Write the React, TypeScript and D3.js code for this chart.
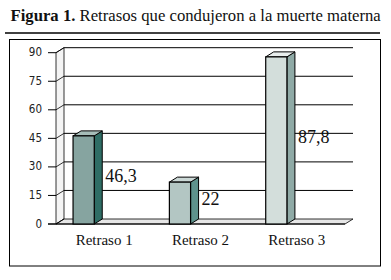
import React from "react";
import * as d3 from "d3";

const categories = ["Retraso 1", "Retraso 2", "Retraso 3"];
const values = [46.3, 22, 87.8];
const valueLabels = ["46,3", "22", "87,8"];
const yTicks = [0, 15, 30, 45, 60, 75, 90];
const frontColors = ["#86a4a0", "#b3c6c3", "#d3dedb"];
const sideColors = ["#2f6d65", "#5e928c", "#8faaa6"];
const topColors = ["#a6bcb8", "#cbd8d6", "#e9eeed"];

export default function App() {
  const W = 391, H = 280;
  const x0 = 56, x1 = 345;
  const dx = 8, dy = -5;
  const xScale = d3.scaleBand<string>().domain(categories).range([x0, x1]);
  const y = d3.scaleLinear().domain([0, 90]).range([224, 52.7]);
  const bw = xScale.bandwidth();
  const barW = bw * 0.22;
  const barOff = bw * 0.177;
  const serif = "Liberation Serif";
  return (
    <svg width={W} height={H} style={{ position: "absolute", left: 0, top: 0 }}>
      <rect x={0} y={0} width={W} height={H} fill="#fff" />
      <text x={10.5} y={21} fontFamily={serif} fontSize={16.7} fill="#111">
        <tspan fontWeight="bold">Figura 1.</tspan>
        <tspan> Retrasos que condujeron a la muerte materna</tspan>
      </text>
      <line x1={5} x2={380} y1={33} y2={33} stroke="#000" strokeWidth={1.5} />
      <rect x={9.5} y={39.5} width={371} height={226.5} fill="none" stroke="#000" strokeWidth={1} />
      <polygon
        points={`${x0},${y(90)} ${x0 + dx},${y(90) + dy} ${x0 + dx},${y(0) + dy} ${x0},${y(0)}`}
        fill="#f4f4f4"
        stroke="#000"
        strokeWidth={0.8}
      />
      <polygon
        points={`${x0},${y(0)} ${x0 + dx},${y(0) + dy} ${x1 + dx},${y(0) + dy} ${x1},${y(0)}`}
        fill="#e6e6e6"
        stroke="#000"
        strokeWidth={0.8}
      />
      <line x1={48} x2={x1} y1={y(0)} y2={y(0)} stroke="#000" strokeWidth={1.2} />
      {yTicks.map((t) => (
        <g key={t}>
          <line x1={48} x2={x0} y1={y(t)} y2={y(t)} stroke="#000" strokeWidth={1} />
          <line x1={x0} x2={x0 + dx} y1={y(t)} y2={y(t) + dy} stroke="#000" strokeWidth={0.8} />
          {t > 0 && (
            <line x1={x0 + dx} x2={x1 + dx} y1={y(t) + dy} y2={y(t) + dy} stroke="#000" strokeWidth={1} />
          )}
          <text
            x={42}
            y={y(t)}
            textAnchor="end"
            dominantBaseline="middle"
            fontFamily="DejaVu Sans Condensed"
            fontSize={11.5}
            fill="#222"
          >
            {t}
          </text>
        </g>
      ))}
      {categories.map((c, i) => {
        const bx = (xScale(c) as number) + barOff;
        const top = y(values[i]);
        const bot = y(0);
        return (
          <g key={c}>
            <polygon
              points={`${bx + barW},${top} ${bx + barW + dx},${top + dy} ${bx + barW + dx},${bot + dy} ${bx + barW},${bot}`}
              fill={sideColors[i]}
              stroke="#000"
              strokeWidth={1}
              strokeLinejoin="round"
            />
            <polygon
              points={`${bx},${top} ${bx + dx},${top + dy} ${bx + barW + dx},${top + dy} ${bx + barW},${top}`}
              fill={topColors[i]}
              stroke="#000"
              strokeWidth={1}
              strokeLinejoin="round"
            />
            <rect x={bx} y={top} width={barW} height={bot - top} fill={frontColors[i]} stroke="#000" strokeWidth={1.2} />
            <text
              x={bx + barW + dx + 3}
              y={(top + bot) / 2 - 2}
              dominantBaseline="middle"
              fontFamily={serif}
              fontSize={18}
              fill="#111"
            >
              {valueLabels[i]}
            </text>
            <text
              x={(xScale(c) as number) + bw / 2}
              y={245}
              textAnchor="middle"
              fontFamily={serif}
              fontSize={15}
              fill="#111"
            >
              {c}
            </text>
          </g>
        );
      })}
    </svg>
  );
}
